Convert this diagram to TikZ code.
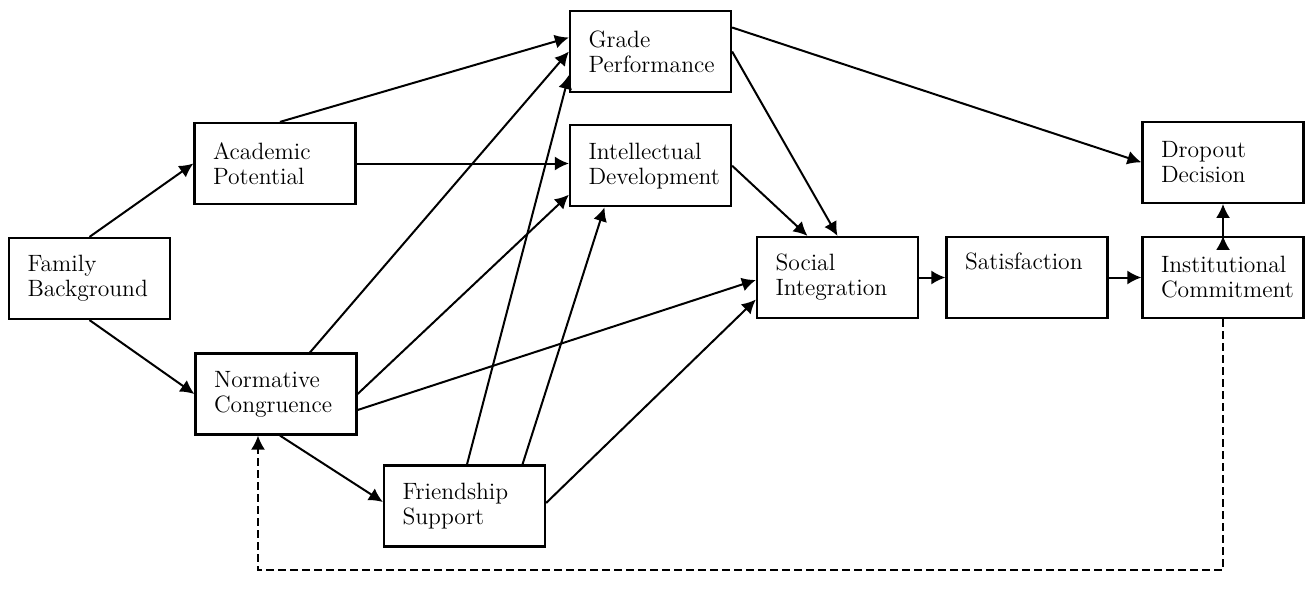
\documentclass[tikz,border=0pt]{standalone}
\usepackage{tikz}
\usetikzlibrary{arrows.meta,positioning}

\begin{document}
\begin{tikzpicture}[x=0.5pt,y=-0.5pt,
            box/.style={draw,rectangle,line width=1.1pt,minimum width=80.5pt,minimum height=40.5pt,
                        text width=62pt,inner xsep=9.25pt,align=left,font=\fontsize{11.8}{12.5}\selectfont},
            link/.style={draw,line width=1pt,-{Latex[length=7pt,width=7pt]}},
            back/.style={link,dash pattern=on 4pt off 2pt}
          ]
          \useasboundingbox (0,0) rectangle (1308,595);

          %boxes
          \node[box] (FB) at (89.5,278.5) {Family\\Background};
          \node[box] (AP) at (275,163.5) {Academic\\Potential};
          \node[box] (NC) at (276,394) {Normative\\Congruence};
          \node[box] (FS) at (464.5,506) {Friendship\\Support};
          \node[box] (GP) at (650.5,51.5) {Grade\\Performance};
          \node[box,below=15.5pt of GP] (ID) {Intellectual\\Development};
          \node[box] (SI) at (837.5,277.5) {Social\\Integration};
          \node[box] (SA) at (1027,277.5) {Satisfaction\\\strut};
          \node[box] (IC) at (1223,277.5) {Institutional\\Commitment};
          \node[box,above=16pt of IC] (DD) {Dropout\\Decision};

          %feedback corner
          \coordinate (low) at (0,570);

          %arrows
          \path[link]
          (FB.north) edge (AP.west)
          (FB.south) edge (NC.west)
          ([xshift=2.5pt]AP.north) edge ([yshift=7pt]GP.west)
          (AP.east) edge (AP.east -| ID.west)
          ([xshift=17pt]NC.north) edge (GP.west)
          (NC.east) edge ([yshift=-14.5pt]ID.west)
          ([yshift=-8pt]NC.east) edge ([yshift=-1.25pt]SI.west)
          ([xshift=2pt]NC.south) edge ([yshift=2pt]FS.west)
          ([xshift=1.25pt]FS.north) edge ([yshift=-11.75pt]GP.west)
          ([xshift=29pt]FS.north) edge ([xshift=-23pt]ID.south)
          ([yshift=1.5pt]FS.east) edge ([yshift=-11pt]SI.west)
          (GP.east) edge (SI.north)
          (ID.east) edge ([xshift=-15pt]SI.north)
          ([yshift=12pt]GP.east) edge (DD.west)
          (SI.east) edge (SA.west)
          (SA.east) edge (IC.west)
          (IC.north) edge (DD.south)
          ;

          %feedback
          \draw[back] (IC.south) -- (IC.south |- low) -| ([xshift=-9pt]NC.south);

      \end{tikzpicture}
\end{document}
